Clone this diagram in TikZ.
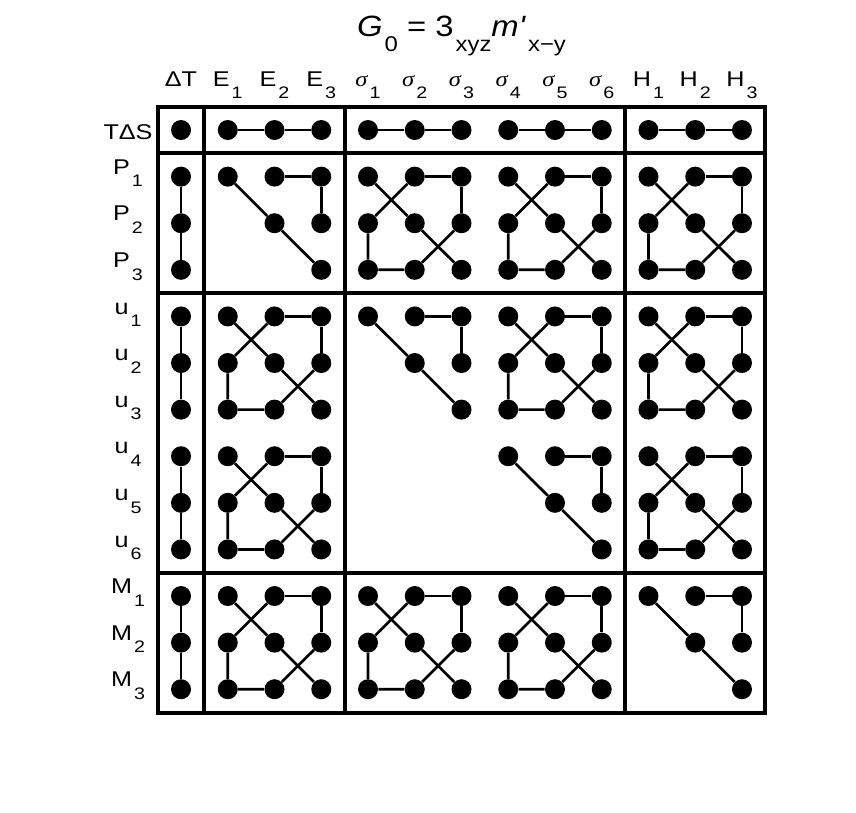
\documentclass[tikz,border=0pt]{standalone}
\usepackage{fontspec}
\setmainfont{Liberation Sans}[Ligatures=TeXOff, FakeStretch=1.18]
\newfontfamily\greekfont{Liberation Serif}[FakeStretch=1.15]
\newfontfamily\titlefont{Liberation Sans}[Ligatures=TeXOff, FakeStretch=1.12]
\tikzset{font=\fontsize{16}{18}\selectfont}

\newcommand{\lsub}[1]{\kern1.5pt\raisebox{-9.5pt}{\fontsize{12.5}{14}\selectfont #1}}
\newcommand{\tsub}[1]{\kern1.5pt\raisebox{-11pt}{\fontsize{16}{18}\selectfont #1}}
\newcommand{\sig}[1]{{\greekfont\itshape σ}\lsub{#1}}

% upper triangle of a 3x3 block: name, column, row
\newcommand{\triblock}[3]{%
	\begin{scope}[shift={(#2,#3)}]
		\node[pt] (#1-11) at (0,0) {};
		\node[pt] (#1-12) at (1,0) {};
		\node[pt] (#1-13) at (2,0) {};
		\node[pt] (#1-22) at (1,1) {};
		\node[pt] (#1-23) at (2,1) {};
		\node[pt] (#1-33) at (2,2) {};
	\end{scope}
	\draw[link] (#1-12) -- (#1-13) -- (#1-23);
	\draw[link] (#1-11) -- (#1-22) -- (#1-33);
}
% full 3x3 block
\newcommand{\fullblock}[3]{%
	\triblock{#1}{#2}{#3}
	\begin{scope}[shift={(#2,#3)}]
		\node[pt] (#1-21) at (0,1) {};
		\node[pt] (#1-31) at (0,2) {};
		\node[pt] (#1-32) at (1,2) {};
	\end{scope}
	\draw[link] (#1-12) -- (#1-21) -- (#1-31) -- (#1-32) -- (#1-23);
}

\begin{document}
\begin{tikzpicture}[x=35.06pt, y=-34.95pt]
	\tikzstyle{pt}=[circle, fill, inner sep=0pt, minimum size=15pt]
	\tikzstyle{link}=[line width=2pt]
	\tikzstyle{frame}=[line width=3pt]
	\useasboundingbox (-3.872,-2.790) rectangle (14.439,14.635);

	% title
	\node[anchor=base] (title) at (6,-2.0) {\titlefont\fontsize{22}{24}\selectfont
		\textit{G}\tsub{0} = 3\tsub{xyz}\textit{m'}\tsub{x−y}};

	% column heads
	\node[anchor=base] (hT) at (0,-0.944) {ΔT};
	\foreach \k in {1,2,3} {
		\node[anchor=base] (hE\k) at (\k,-0.944) {E\lsub{\k}};
		\node[anchor=base] (hH\k) at (\k+9,-0.944) {H\lsub{\k}};
	}
	\foreach \k in {1,...,6}
		\node[anchor=base] (hS\k) at (\k+3,-0.944) {\sig{\k}};

	% row heads
	\node[anchor=base] (lTS) at (-1.134,0.193) {TΔS};
	\foreach \k in {1,2,3} {
		\node[anchor=base] (lP\k) at (-1.134,\k-0.05) {P\lsub{\k}};
		\node[anchor=base] (lM\k) at (-1.134,\k+9-0.05) {M\lsub{\k}};
	}
	\foreach \k in {1,...,6}
		\node[anchor=base] (lu\k) at (-1.134,\k+3-0.05) {u\lsub{\k}};

	% frame
	\draw[frame] (-0.5,-0.5) rectangle (12.5,12.5);
	\draw[frame] (0.5,-0.5) -- (0.5,12.5);
	\draw[frame] (3.5,-0.5) -- (3.5,12.5);
	\draw[frame] (9.5,-0.5) -- (9.5,12.5);
	\draw[frame] (-0.5,0.5) -- (12.5,0.5);
	\draw[frame] (-0.5,3.5) -- (12.5,3.5);
	\draw[frame] (-0.5,9.5) -- (12.5,9.5);

	% T Delta S row and Delta T column
	\node[pt] (s0) at (0,0) {};
	\foreach \k in {1,...,12} {
		\node[pt] (s\k) at (\k,0) {};
		\node[pt] (t\k) at (0,\k) {};
	}
	\foreach \a/\b/\c in {1/2/3, 4/5/6, 7/8/9, 10/11/12} {
		\draw[link] (s\a) -- (s\b) -- (s\c);
		\draw[link] (t\a) -- (t\b) -- (t\c);
	}

	% blocks
	\triblock{PE}{1}{1}
	\fullblock{PSa}{4}{1}
	\fullblock{PSb}{7}{1}
	\fullblock{PH}{10}{1}

	\fullblock{uaE}{1}{4}
	\triblock{uaSa}{4}{4}
	\fullblock{uaSb}{7}{4}
	\fullblock{uaH}{10}{4}

	\fullblock{ubE}{1}{7}
	\triblock{ubSb}{7}{7}
	\fullblock{ubH}{10}{7}

	\fullblock{ME}{1}{10}
	\fullblock{MSa}{4}{10}
	\fullblock{MSb}{7}{10}
	\triblock{MH}{10}{10}
\end{tikzpicture}
\end{document}
